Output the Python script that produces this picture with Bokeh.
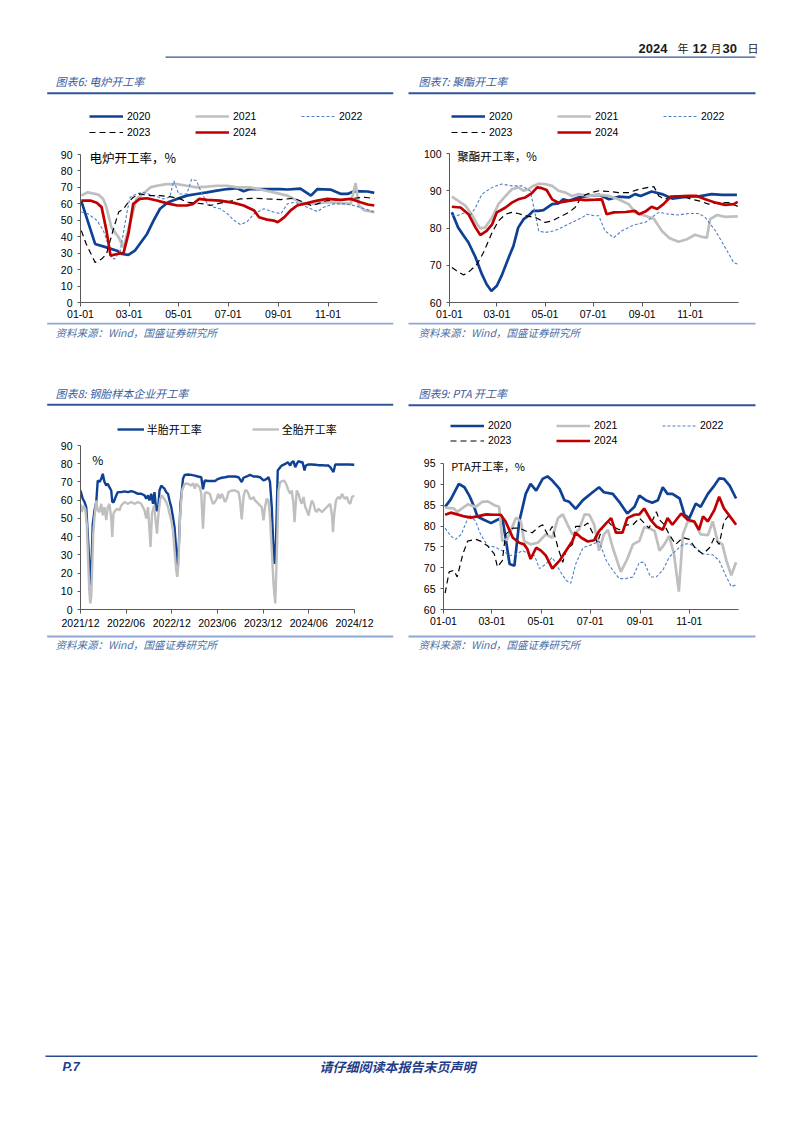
from bokeh.plotting import figure
from bokeh.models import Range1d, FixedTicker, Legend, LegendItem, Label
from bokeh.layouts import column, row
from bokeh.embed import file_html
from bokeh.resources import INLINE
from bokeh.core.properties import value

CJK = "Noto Sans CJK SC"
LAT = "Liberation Sans"

# ---------------- data ----------------
# day-of-year axis (charts 6, 7, 9)
doy_ticks = [0, 60, 121, 182, 244, 305]
doy_labels = ["01-01", "03-01", "05-01", "07-01", "09-01", "11-01"]
years = ["2020", "2021", "2022", "2023", "2024"]

# Chart 6: electric furnace operating rate (%)
eaf_2020_x = [1, 18, 32, 45, 51, 59, 67, 73, 82, 90, 98, 108, 119, 131, 143, 156, 168, 181, 193, 201, 209, 230, 246, 255, 271, 284, 292, 308, 321, 329, 337, 354, 362]
eaf_2020_y = [61.6, 35.6, 33.5, 31.5, 29.5, 29, 31.5, 35.6, 41.7, 49.8, 57, 61, 63, 65, 66, 67, 68, 69, 69.5, 67.7, 69, 69, 69, 68.7, 69.3, 65, 69, 68.7, 66, 66, 67.7, 67.5, 66.7]
eaf_2021_x = [1, 9, 22, 28, 32, 38, 47, 53, 69, 77, 86, 94, 106, 119, 131, 143, 156, 168, 181, 193, 209, 222, 238, 255, 267, 275, 288, 304, 321, 333, 339, 343, 350, 362]
eaf_2021_y = [65, 67, 65.6, 63, 58, 45.7, 39.6, 33.5, 63, 66, 70, 71, 72, 72, 71, 70, 70.5, 71, 71, 70, 70, 68.7, 67, 65, 62, 60, 60, 61, 60.4, 60, 72.6, 59, 56, 55]
eaf_2022_x = [1, 9, 20, 28, 34, 38, 42, 49, 57, 61, 69, 77, 90, 102, 110, 115, 121, 131, 137, 143, 148, 156, 164, 172, 181, 189, 197, 205, 214, 226, 238, 247, 255, 263, 271, 279, 292, 300, 312, 325, 337, 350, 362]
eaf_2022_y = [55, 54, 50, 44, 35.6, 27.4, 26.4, 31.5, 54, 64, 66, 67, 65, 63, 64, 74, 66, 66, 75, 74, 68, 60.4, 58, 57, 54, 50, 47.4, 49, 54, 57, 55, 54, 60, 61, 60, 58, 55.3, 58, 60, 60, 59, 57, 55]
eaf_2023_x = [1, 7, 18, 26, 32, 40, 47, 53, 59, 65, 73, 86, 98, 110, 123, 131, 143, 152, 160, 172, 185, 197, 214, 230, 247, 263, 275, 284, 292, 304, 321, 337, 350, 362]
eaf_2023_y = [43.7, 35.6, 24.4, 26.4, 29.5, 43.7, 55, 57, 61, 64, 66, 65, 65, 64.4, 63, 61, 60.4, 60, 59, 60.4, 61.6, 63, 63.4, 63, 62.6, 63.4, 61, 59, 60, 62, 62.4, 63.4, 64, 63.2]
eaf_2024_x = [1, 12, 20, 26, 32, 37, 45, 53, 59, 65, 73, 82, 94, 106, 119, 131, 139, 146, 156, 172, 189, 201, 214, 220, 230, 238, 243, 251, 259, 267, 279, 292, 304, 321, 333, 345, 354, 362]
eaf_2024_y = [62, 62, 60.6, 58, 43.7, 28.5, 29.5, 30, 41.7, 60, 63, 63.4, 62, 60.4, 59, 59, 60, 63, 62.4, 62, 60.6, 59, 56, 51.8, 50.4, 49.8, 48.8, 51.8, 56, 59, 60.4, 62, 63, 62.4, 63, 61, 59.6, 59]

# Chart 7: polyester operating rate (%)
pet_2020_x = [3, 11, 18, 24, 33, 41, 47, 53, 60, 66, 75, 81, 87, 94, 100, 106, 113, 119, 130, 138, 144, 151, 163, 176, 189, 202, 214, 227, 235, 242, 256, 269, 282, 294, 307, 316, 332, 345, 364]
pet_2020_y = [84.2, 80.1, 77.9, 76.1, 72.1, 67.6, 64.9, 63.1, 64.5, 67.2, 72.1, 75.2, 80.1, 82.4, 83.3, 84.6, 84.6, 84.8, 86.4, 86.6, 87.7, 87.3, 88.2, 88.6, 88.9, 87.7, 88.4, 88.2, 89.1, 88.6, 89.8, 89.1, 87.9, 88.2, 88.5, 88.5, 89.1, 88.9, 88.9]
pet_2021_x = [3, 11, 20, 28, 35, 39, 45, 54, 62, 71, 79, 87, 94, 100, 106, 113, 121, 130, 138, 147, 155, 164, 176, 189, 202, 214, 227, 235, 248, 259, 269, 278, 282, 290, 301, 311, 320, 326, 330, 339, 349, 365]
pet_2021_y = [88.4, 87.3, 86, 83.7, 81, 79.9, 80.1, 82.8, 86.4, 88.6, 90.4, 90.9, 90, 90.4, 91.3, 91.9, 91.8, 91.3, 90, 89.5, 88.6, 89.1, 88.6, 88.9, 88.6, 87.7, 86.4, 84.2, 83.3, 82.4, 79.2, 77.4, 77, 76.3, 77, 78.2, 77.6, 77.4, 82.4, 83.5, 83, 83.1]
pet_2022_x = [3, 11, 20, 26, 33, 41, 54, 66, 79, 92, 102, 106, 113, 121, 132, 142, 155, 168, 174, 183, 189, 197, 208, 218, 231, 240, 248, 256, 265, 278, 290, 303, 316, 324, 337, 349, 360, 365]
pet_2022_y = [83.3, 83.4, 84.2, 83.3, 85.5, 89.1, 90.9, 91.8, 91.3, 91.3, 90, 86.4, 79.2, 78.8, 79.2, 80.1, 81.5, 82.8, 83.7, 83.3, 83.3, 79.2, 77.4, 79.2, 80.6, 81.2, 81.5, 82.8, 84.2, 83.7, 83.5, 83.9, 83.9, 82.8, 79.2, 74.8, 70.7, 70.3]
pet_2023_x = [3, 9, 18, 26, 35, 43, 54, 62, 71, 79, 87, 96, 109, 121, 130, 138, 151, 159, 168, 180, 189, 202, 214, 227, 240, 252, 259, 265, 273, 282, 294, 307, 316, 328, 341, 354, 365]
pet_2023_y = [69.4, 68.5, 67.4, 68.5, 70.3, 73.4, 78.8, 81.9, 83.7, 84.2, 83.9, 83.3, 82.8, 81.5, 81.9, 82.8, 84.2, 85.5, 88.6, 89.5, 90, 89.8, 89.5, 89.5, 90.4, 90.9, 91.1, 88.6, 87.7, 88.6, 88.6, 87.7, 87.3, 86.4, 86.8, 86.8, 85.8]
pet_2024_x = [3, 14, 24, 33, 39, 47, 54, 60, 71, 79, 87, 96, 104, 111, 117, 123, 130, 138, 151, 164, 172, 185, 193, 199, 208, 223, 235, 240, 248, 256, 263, 271, 280, 290, 303, 313, 324, 337, 349, 360, 365]
pet_2024_y = [85.7, 85.5, 83.7, 80.1, 78.1, 79.2, 81, 84.2, 85.5, 86.8, 87.7, 88.2, 89.3, 90.9, 90.7, 90.2, 87.7, 86.8, 87.3, 87.7, 87.5, 87.6, 87.7, 83.7, 84.2, 84.3, 84.6, 83.7, 84.4, 85.7, 85.1, 86.4, 88.4, 88.5, 88.6, 88.6, 87.7, 86.8, 86.2, 86.4, 87]

# Chart 8: tyre sample enterprises operating rate (%), x = days since 2021-12-01
tyre_ticks = [0, 182, 365, 547, 730, 913, 1096]
tyre_labels = ["2021/12", "2022/06", "2022/12", "2023/06", "2023/12", "2024/06", "2024/12"]
semi_x = [0, 9, 16, 23, 29, 36, 40, 45, 49, 56, 63, 69, 76, 83, 89, 96, 103, 109, 116, 123, 127, 133, 143, 149, 163, 176, 190, 203, 216, 230, 243, 256, 263, 270, 276, 283, 290, 296, 303, 310, 316, 323, 330, 336, 343, 350, 356, 363, 370, 376, 383, 387, 392, 400, 410, 417, 430, 443, 457, 470, 483, 490, 497, 510, 523, 538, 551, 565, 578, 592, 605, 618, 632, 645, 652, 665, 678, 692, 705, 718, 732, 745, 752, 758, 765, 772, 776, 782, 789, 799, 805, 819, 829, 839, 845, 852, 859, 865, 872, 883, 888, 896, 901, 912, 925, 939, 952, 965, 979, 992, 999, 1006, 1012, 1019, 1032, 1046, 1059, 1072, 1096]
semi_y = [65.3, 60.8, 59, 56, 41.6, 23, 13.3, 28.8, 47, 54.4, 59, 70.8, 70, 71.7, 74.5, 70, 68, 69, 67, 65.3, 59, 59, 62.6, 64.4, 64.4, 64.8, 64.4, 65, 64.4, 63.5, 63.5, 62.6, 60.8, 62.6, 59.8, 63.5, 58, 64.4, 54.4, 54.4, 65.3, 68, 67, 66.3, 64.4, 63.5, 59.8, 56.2, 50.7, 45.2, 32.5, 24, 30.6, 58, 71.7, 73.9, 74.1, 73.9, 73.5, 73, 72.6, 66, 70.8, 70.5, 70.5, 70.5, 71.7, 72.3, 72.6, 73, 73, 73, 72.6, 69.9, 72.3, 73, 73.9, 73, 73, 72.6, 70.8, 71.7, 72.6, 69.9, 56.2, 32.5, 25, 38, 76.3, 78.1, 79, 79.9, 80.8, 79, 80.8, 81.4, 78.1, 79.9, 81.4, 80.8, 81, 76.3, 79, 79.6, 79.6, 79.4, 79.2, 79.2, 79, 79, 78.1, 76.6, 75.4, 79.6, 79.6, 79.6, 79.6, 79.6, 79.4]
full_x = [0, 5, 13, 19, 25, 29, 35, 39, 43, 47, 51, 56, 63, 69, 76, 83, 89, 96, 103, 109, 116, 123, 127, 132, 139, 147, 156, 163, 176, 190, 203, 216, 230, 243, 256, 263, 270, 276, 280, 286, 294, 299, 306, 312, 319, 326, 334, 343, 350, 356, 363, 370, 376, 383, 387, 392, 398, 406, 417, 430, 443, 450, 457, 463, 470, 477, 483, 490, 497, 503, 517, 523, 530, 538, 545, 551, 558, 565, 571, 578, 585, 592, 605, 618, 632, 638, 645, 652, 658, 665, 672, 678, 685, 692, 698, 705, 712, 725, 732, 738, 745, 752, 758, 765, 772, 779, 785, 792, 799, 812, 819, 825, 832, 839, 845, 852, 856, 861, 865, 872, 879, 885, 892, 899, 905, 912, 919, 925, 932, 939, 945, 952, 965, 979, 992, 999, 1006, 1010, 1015, 1022, 1030, 1039, 1046, 1056, 1066, 1072, 1079, 1086, 1096]
full_y = [58, 53.5, 57, 55, 47, 32.5, 10.6, 3.3, 7, 23.4, 41.6, 50.7, 59.8, 54.4, 53.5, 58, 51.7, 56.2, 49, 56.2, 58, 49.9, 39.8, 52.6, 54.4, 55.3, 54.4, 57.1, 59, 58, 59, 58, 59, 58, 54.4, 49.9, 56.2, 43.4, 34.3, 52.6, 57.1, 50.7, 41.6, 52.6, 60.8, 62.6, 60.8, 59, 56.2, 52.6, 49, 43.4, 32.5, 21.5, 17.9, 25.2, 50.7, 65.3, 69, 69, 68, 69.3, 66.3, 69, 68, 67, 63.5, 44.3, 63.5, 64.4, 63.5, 60.8, 58, 59, 60.8, 63.5, 60.8, 63.5, 61.7, 59, 60.8, 64.4, 65.3, 65.3, 64.4, 59.8, 49.5, 61.7, 65.3, 65.3, 63.5, 60.8, 60.8, 61.7, 59.8, 59, 58, 56.2, 48.9, 56.2, 60.8, 59.8, 50.7, 32.5, 14.2, 3.3, 28.8, 65.3, 69.9, 70.8, 69.9, 68, 65.3, 63.5, 65.3, 58, 47.9, 58, 65.3, 63.5, 59.8, 58, 61.7, 56.2, 54.4, 51.6, 56.2, 59.8, 58, 54.4, 53.5, 55.3, 53.5, 55.3, 57.1, 58, 51.6, 42.5, 52.6, 59.8, 61.7, 60.8, 63.5, 60.8, 61.7, 59, 58, 61.7, 62.6]

# Chart 9: PTA operating rate (%)
pta_2020_x = [2, 9, 19, 26, 32, 38, 42, 50, 59, 67, 73, 77, 82, 88, 94, 102, 108, 115, 123, 129, 135, 144, 150, 156, 164, 173, 185, 193, 199, 210, 218, 228, 237, 243, 251, 259, 266, 272, 278, 284, 293, 299, 305, 313, 319, 328, 336, 342, 348, 355, 363]
pta_2020_y = [84.6, 86.4, 90.1, 89.3, 87.3, 84.6, 82.3, 81.5, 80.7, 81.5, 82, 77.2, 70.9, 70.5, 81.1, 87.7, 90.1, 88.5, 91.3, 91.9, 90.9, 88.9, 86.2, 85.8, 84.1, 86.2, 88.1, 89.3, 88.1, 87.7, 85.8, 83, 84.6, 87.3, 86.2, 85.6, 86.2, 89.3, 87.7, 87.7, 86.6, 82.7, 81.9, 85.4, 84.6, 87.7, 89.7, 91.4, 91.3, 89.7, 86.6]
pta_2021_x = [2, 13, 17, 30, 40, 48, 55, 63, 69, 73, 79, 90, 96, 100, 108, 117, 127, 135, 142, 148, 154, 160, 168, 175, 181, 187, 193, 199, 204, 210, 220, 228, 235, 243, 249, 255, 262, 268, 274, 280, 286, 292, 297, 303, 311, 319, 328, 334, 340, 346, 351, 357, 363]
pta_2021_y = [84.4, 84.2, 83.4, 85.2, 84.6, 85.8, 85.9, 85, 84.6, 76.4, 76.8, 82, 81.1, 76.4, 75.6, 76, 78, 77.2, 81.9, 82.8, 80.3, 78, 79.1, 82.8, 82.7, 80.3, 74.1, 78, 79.1, 74.8, 69, 72.1, 75.6, 76.4, 79.7, 79.5, 78.8, 74.1, 75.6, 77.6, 73.3, 64.3, 78, 81.1, 81.1, 78, 77.8, 81.1, 76.4, 75.6, 71.7, 68.2, 71.3]
pta_2022_x = [2, 9, 15, 22, 32, 40, 46, 55, 63, 73, 82, 90, 98, 106, 113, 119, 127, 135, 144, 152, 158, 164, 173, 185, 193, 202, 210, 218, 226, 235, 243, 249, 257, 264, 272, 280, 288, 297, 305, 313, 322, 334, 342, 351, 357, 363]
pta_2022_y = [79.5, 77.6, 76.8, 78, 82.7, 81.1, 78, 75.2, 75, 74.1, 72.9, 73.3, 74.1, 73.3, 72.9, 69.8, 70.9, 72.5, 69.4, 67, 66.3, 70.9, 74.8, 75.6, 76.4, 71.7, 69.4, 67.4, 67.4, 67.8, 71.3, 71.3, 67.8, 67.8, 69.4, 72.5, 74.1, 75.6, 75.8, 74.8, 73.3, 73.1, 71.7, 67.8, 65.5, 65.9]
pta_2023_x = [2, 7, 13, 17, 24, 30, 40, 46, 55, 63, 67, 73, 77, 86, 94, 102, 110, 119, 123, 129, 135, 142, 148, 152, 160, 164, 173, 179, 185, 191, 197, 204, 210, 218, 228, 235, 243, 249, 255, 264, 268, 274, 280, 288, 297, 305, 313, 322, 330, 336, 342, 348, 353, 359]
pta_2023_y = [63.9, 69, 69.4, 67.8, 73.3, 76.4, 76.8, 76.4, 75.2, 73.3, 70.2, 71.7, 78, 79.5, 79.5, 78.8, 78.4, 79.9, 80.3, 78, 79.9, 74.8, 71.3, 74.1, 75.6, 79.9, 79.9, 80.7, 78.4, 76, 79.5, 81.1, 79.9, 79.1, 80.3, 80.3, 81.9, 80.7, 79.5, 83.4, 81.5, 80.3, 78, 75.6, 77.2, 76.8, 74.5, 73.3, 74.8, 77.2, 75.6, 81.1, 82.3, 81.9]
pta_2024_x = [2, 9, 17, 26, 34, 42, 53, 63, 71, 77, 86, 94, 100, 104, 108, 115, 121, 127, 135, 144, 152, 160, 164, 171, 179, 187, 193, 202, 208, 214, 222, 228, 237, 243, 249, 257, 264, 272, 278, 284, 295, 303, 311, 317, 322, 328, 336, 342, 348, 357, 363]
pta_2024_y = [82.7, 83.2, 82.8, 82.3, 82, 82.3, 82.8, 82.7, 82.7, 81.1, 77.2, 76, 75.6, 74.5, 72.1, 74.8, 74.1, 72.9, 69.8, 71.7, 74.1, 76.4, 78.4, 77.2, 76.3, 76.6, 78.8, 80.7, 81.9, 78.4, 78.4, 81.9, 82.7, 82.8, 84.2, 81.5, 79.9, 79.1, 81.9, 80.3, 83, 81.5, 81.1, 79.1, 82.3, 81.1, 83.8, 87, 84.2, 81.9, 80.3]

# ---------------- styles ----------------
YEAR_STYLE = {
    "2020": dict(color="#0E4194", line_width=2.7),
    "2021": dict(color="#BFBFBF", line_width=2.7),
    "2022": dict(color="#4F81C7", line_width=1.1, line_dash="3 2"),
    "2023": dict(color="#000000", line_width=1.2, line_dash="6 4"),
    "2024": dict(color="#C00000", line_width=2.7),
}
TITLE_C = "#3A5BA0"
SRC_C = "#4A6FA5"
RULE_C = "#2F5597"
SRC_RULE_C = "#8EA6D3"
AXIS_C = "#595959"


def deco(w, h):
    p = figure(width=w, height=h, x_range=Range1d(0, w), y_range=Range1d(0, h),
               x_axis_type=None, y_axis_type=None, output_backend="svg",
               toolbar_location=None, min_border=0, title_location=None)
    p.grid.visible = False
    p.outline_line_color = None
    return p


def dtext(p, x, y, s, size, font=CJK, style="italic", color=TITLE_C, align="left"):
    p.text(x=[x], y=[y], text=[s], text_font=value(font), text_font_size=value(size),
           text_font_style=value(style), text_color=color, text_align=align,
           text_baseline="middle")


def rule(p, x0, x1, y, color, w):
    p.segment(x0=[x0], y0=[y], x1=[x1], y1=[y], line_color=color, line_width=w)


def chart(w, h, xr, ybounds, b, axis_px, xticks, xlabels, yticks):
    """b = (left, right, bottom) borders; the frame reaches the top of the figure so the
    legend and inner caption live inside it; the y axis is bounded to the data scale."""
    frame_h = h - b[2]
    y0, y1 = ybounds
    ytop = y0 + (y1 - y0) * frame_h / axis_px
    p = figure(width=w, height=h, x_range=Range1d(*xr), y_range=Range1d(y0, ytop),
               output_backend="svg", toolbar_location=None, title_location=None,
               min_border_left=b[0], min_border_right=b[1], min_border_top=0, min_border_bottom=b[2])
    p.outline_line_color = None
    p.grid.visible = False
    p.xaxis.ticker = FixedTicker(ticks=xticks)
    p.xaxis.major_label_overrides = {t: l for t, l in zip(xticks, xlabels)}
    p.yaxis.ticker = FixedTicker(ticks=yticks)
    p.yaxis.bounds = (y0, y1)
    for ax in (p.xaxis[0], p.yaxis[0]):
        ax.axis_line_color = AXIS_C
        ax.major_tick_line_color = AXIS_C
        ax.minor_tick_line_color = None
        ax.major_label_text_font = LAT
        ax.major_label_text_font_size = "10.5px"
        ax.major_label_text_color = "#000000"
        ax.major_tick_in = 0
    p.xaxis.major_tick_out = 4
    p.xaxis.major_label_standoff = 3
    p.yaxis.major_tick_out = 3
    p.yaxis.major_label_standoff = 5
    return p


def legend(p, items, loc, ncols, gw, gh, lw, standoff, font=LAT, size="10.5px"):
    lg = Legend(items=items, location=loc, orientation="horizontal", ncols=ncols,
                padding=0, margin=0, spacing=0, glyph_width=gw, glyph_height=gh,
                label_height=gh, label_width=lw, label_standoff=standoff,
                label_text_font=font, label_text_font_size=size,
                label_text_color="#000000", border_line_color=None,
                background_fill_alpha=0)
    p.add_layout(lg)


def inner_label(p, x, y, s, size):
    p.add_layout(Label(x=x, y=y, x_units="screen", y_units="screen", text=s,
                       text_font=CJK, text_font_size=size, text_baseline="middle",
                       text_align="left", text_color="#000000"))


def year_lines(p, xs, ys):
    items = []
    for yname, x, y in zip(years, xs, ys):
        r = p.line(x, y, **YEAR_STYLE[yname])
        items.append(LegendItem(label=yname, renderers=[r]))
    return items


# ---------------- header ----------------
head = deco(794, 100)
dtext(head, 638, 52.5, "2024", "13px", font=LAT, style="bold", color="#1A1A1A")
dtext(head, 677, 52.5, "年", "11px", style="normal", color="#1A1A1A")
dtext(head, 692, 52.5, "12", "13px", font=LAT, style="bold", color="#1A1A1A")
dtext(head, 710, 52.5, "月", "11px", style="normal", color="#1A1A1A")
dtext(head, 722, 52.5, "30", "13px", font=LAT, style="bold", color="#1A1A1A")
dtext(head, 747, 52.5, "日", "11px", style="normal", color="#1A1A1A")
rule(head, 165, 755, 43.3, RULE_C, 1.3)
dtext(head, 55, 19.3, "图表6: 电炉开工率", "11px")
dtext(head, 418, 19.3, "图表7: 聚酯开工率", "11px")
rule(head, 46.7, 392.7, 7.3, RULE_C, 2)
rule(head, 408, 755, 7.3, RULE_C, 2)

# ---------------- chart 6 ----------------
f6 = chart(401, 222, (0, 366), (0, 90), (80, 24, 20), 148, doy_ticks, doy_labels, list(range(0, 91, 10)))
it6 = year_lines(f6, [eaf_2020_x, eaf_2021_x, eaf_2022_x, eaf_2023_x, eaf_2024_x],
                 [eaf_2020_y, eaf_2021_y, eaf_2022_y, eaf_2023_y, eaf_2024_y])
legend(f6, it6, (9, 162), 3, 34, 16, 68, 4)
inner_label(f6, 9, 145, "电炉开工率，%", "12.5px")

# ---------------- chart 7 ----------------
f7 = chart(393, 222, (0, 366), (60, 100), (48, 56, 20), 149, doy_ticks, doy_labels, list(range(60, 101, 10)))
it7 = year_lines(f7, [pet_2020_x, pet_2021_x, pet_2022_x, pet_2023_x, pet_2024_x],
                 [pet_2020_y, pet_2021_y, pet_2022_y, pet_2023_y, pet_2024_y])
legend(f7, it7, (2, 162), 3, 34, 16, 68, 4)
inner_label(f7, 7.7, 147, "聚酯开工率，%", "11.5px")

# ---------------- middle strip ----------------
mid = deco(794, 88)
rule(mid, 46.7, 392.7, 87, SRC_RULE_C, 2)
rule(mid, 408, 755, 87, SRC_RULE_C, 2)
dtext(mid, 55, 78.5, "资料来源：Wind，国盛证券研究所", "10.5px", color=SRC_C)
dtext(mid, 418, 78.5, "资料来源：Wind，国盛证券研究所", "10.5px", color=SRC_C)
dtext(mid, 55, 17.3, "图表8: 钢胎样本企业开工率", "11px")
dtext(mid, 418, 17.3, "图表9: PTA 开工率", "11px")
rule(mid, 46.7, 392.7, 5.7, RULE_C, 2)
rule(mid, 408, 755, 5.3, RULE_C, 2)

# ---------------- chart 8 ----------------
f8 = chart(401, 224, (0, 1096), (0, 90), (80, 47, 25), 164, tyre_ticks, tyre_labels, list(range(0, 91, 10)))
r_semi = f8.line(semi_x, semi_y, color="#0E4194", line_width=2.4)
r_full = f8.line(full_x, full_y, color="#BFBFBF", line_width=2.4)
legend(f8, [LegendItem(label="半胎开工率", renderers=[r_semi]),
            LegendItem(label="全胎开工率", renderers=[r_full])],
       (36.7, 171.7), 2, 27, 16, 105, 3, font=CJK, size="11px")
inner_label(f8, 11.7, 150, "%", "12px")

# ---------------- chart 9 ----------------
f9 = chart(393, 224, (0, 366), (60, 95), (42, 56, 21), 149, doy_ticks, doy_labels, list(range(60, 96, 5)))
it9 = year_lines(f9, [pta_2020_x, pta_2021_x, pta_2022_x, pta_2023_x, pta_2024_x],
                 [pta_2020_y, pta_2021_y, pta_2022_y, pta_2023_y, pta_2024_y])
legend(f9, it9, (7, 161.5), 3, 34, 15, 68, 4)
inner_label(f9, 7.7, 143.7, "PTA开工率，%", "11px")

# ---------------- footer ----------------
foot = deco(794, 476)
rule(foot, 46.7, 392.7, 474, SRC_RULE_C, 2)
rule(foot, 408, 755, 474, SRC_RULE_C, 2)
dtext(foot, 55, 466.5, "资料来源：Wind，国盛证券研究所", "10.5px", color=SRC_C)
dtext(foot, 418, 466.5, "资料来源：Wind，国盛证券研究所", "10.5px", color=SRC_C)
rule(foot, 45, 757, 54.3, "#2A4C8F", 1.5)
dtext(foot, 62, 44, "P.7", "12.5px", font=LAT, style="bold italic", color="#1F3C88")
dtext(foot, 397, 44, "请仔细阅读本报告末页声明", "13px", style="bold italic", color="#1F3C88", align="center")

page = column(head, row(f6, f7), mid, row(f8, f9), foot)
open("out.html", "w").write(file_html(page, INLINE, title="P.7"))
